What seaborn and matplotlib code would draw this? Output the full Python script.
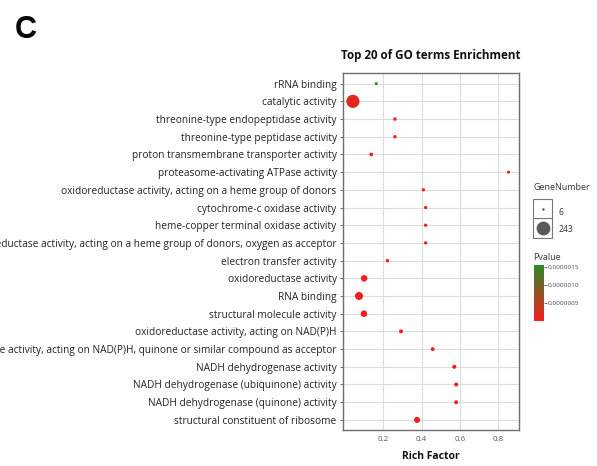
import numpy as np
import pandas as pd
import matplotlib
matplotlib.use("Agg")
import matplotlib.pyplot as plt
from matplotlib.colors import LinearSegmentedColormap, Normalize
from matplotlib.patches import Rectangle
import seaborn as sns

# GO terms, listed top to bottom
terms = [
    "rRNA binding",
    "catalytic activity",
    "threonine-type endopeptidase activity",
    "threonine-type peptidase activity",
    "proton transmembrane transporter activity",
    "proteasome-activating ATPase activity",
    "oxidoreductase activity, acting on a heme group of donors",
    "cytochrome-c oxidase activity",
    "heme-copper terminal oxidase activity",
    "oxidoreductase activity, acting on a heme group of donors, oxygen as acceptor",
    "electron transfer activity",
    "oxidoreductase activity",
    "RNA binding",
    "structural molecule activity",
    "oxidoreductase activity, acting on NAD(P)H",
    "oxidoreductase activity, acting on NAD(P)H, quinone or similar compound as acceptor",
    "NADH dehydrogenase activity",
    "NADH dehydrogenase (ubiquinone) activity",
    "NADH dehydrogenase (quinone) activity",
    "structural constituent of ribosome",
]
rich_factor = [0.162, 0.040, 0.260, 0.260, 0.136, 0.855, 0.409, 0.421, 0.421, 0.421,
               0.221, 0.099, 0.072, 0.098, 0.292, 0.458, 0.571, 0.581, 0.581, 0.376]
gene_number = [6, 243, 9, 9, 12, 6, 8, 8, 8, 8,
               9, 54, 86, 54, 15, 14, 16, 15, 15, 46]
pvalue = [1.54e-6, 1.5e-7, 2e-9, 2e-9, 3e-9, 1e-9, 1e-9, 1e-9, 1e-9, 1e-9,
          2e-9, 1e-9, 1e-9, 1e-9, 1e-9, 1e-9, 1e-9, 1e-9, 1e-9, 1e-10]

df = pd.DataFrame({"Term": terms, "RichFactor": rich_factor,
                   "GeneNumber": gene_number, "Pvalue": pvalue})

sns.set_style("white")
plt.rcParams["font.family"] = ["Open Sans", "DejaVu Sans"]

fig = plt.figure(figsize=(5.97, 4.66), dpi=100)
ax = fig.add_axes([0.5745, 0.0773, 0.2948, 0.766])

cmap = LinearSegmentedColormap.from_list("pv", ["#f41e1e", "#2b8a2b"])
norm = Normalize(vmin=0.0, vmax=max(pvalue))
size_range = (5, 90)

sns.scatterplot(data=df, x="RichFactor", y="Term", hue="Pvalue", hue_norm=norm,
                palette=cmap, size="GeneNumber", sizes=size_range,
                size_norm=(min(gene_number), max(gene_number)),
                linewidth=0, legend=False, ax=ax, zorder=3)

ax.set_xlim(-0.012, 0.91)
ax.set_ylim(len(terms) - 0.43, -0.6)
ax.set_xticks([0.2, 0.4, 0.6, 0.8])
ax.set_xticklabels(["0.2", "0.4", "0.6", "0.8"])
ax.grid(True, color="#dcdcdc", linewidth=0.8, zorder=0)
ax.set_axisbelow(True)
for sp in ax.spines.values():
    sp.set_color("#6e6e6e")
    sp.set_linewidth(1.0)
ax.tick_params(axis="y", length=2.5, width=0.7, color="#6e6e6e",
               labelsize=7.3, labelcolor="#222222", pad=2, left=True)
ax.tick_params(axis="x", length=0, labelsize=5.8, labelcolor="#555555", pad=4)
ax.set_ylabel("")
ax.set_xlabel("Rich Factor", fontsize=7.5, fontweight="bold", labelpad=6,
              color="#111111")
ax.set_title("Top 20 of GO terms Enrichment", fontsize=8.4, fontweight="bold",
             pad=10, color="#111111")

# panel letter
fig.text(0.024, 0.935, "C", fontsize=22, fontweight="bold", color="black",
         family="Liberation Sans", va="center", ha="left")

# size legend
fig.text(0.893, 0.597, "GeneNumber", fontsize=6.5, color="#333333", va="center")
lax = fig.add_axes([0.893, 0.49, 0.032, 0.083])
lax.set_xlim(0, 1)
lax.set_ylim(0, 2)
lax.axis("off")
for i in range(2):
    lax.add_patch(Rectangle((0, i), 1, 1, facecolor="white", clip_on=False,
                            edgecolor="#777777", linewidth=0.8))
def size_of(n):
    lo, hi = min(gene_number), max(gene_number)
    return size_range[0] + (n - lo) / (hi - lo) * (size_range[1] - size_range[0])
lax.scatter([0.5], [1.5], s=size_of(6) * 0.5, color="#333333", linewidth=0,
            clip_on=False, zorder=3)
lax.scatter([0.5], [0.5], s=size_of(243) * 1.1, color="#5a5a5a", linewidth=0,
            clip_on=False, zorder=3)
fig.text(0.936, 0.545, "6", fontsize=6.2, color="#333333", va="center")
fig.text(0.936, 0.507, "243", fontsize=6.2, color="#333333", va="center")

# p-value colour bar
fig.text(0.893, 0.448, "Pvalue", fontsize=6.5, color="#333333", va="center")
cax = fig.add_axes([0.895, 0.311, 0.016, 0.12])
sm = plt.cm.ScalarMappable(norm=norm, cmap=cmap)
cb = fig.colorbar(sm, cax=cax, ticks=[5e-7, 1e-6, 1.5e-6])
cb.outline.set_visible(False)
cb.ax.set_yticklabels(["0.0000005", "0.0000010", "0.0000015"])
cb.ax.tick_params(labelsize=4.6, length=2, width=0.6, color="#555555",
                  labelcolor="#444444", pad=1)

fig.savefig("out.png", dpi=100)
